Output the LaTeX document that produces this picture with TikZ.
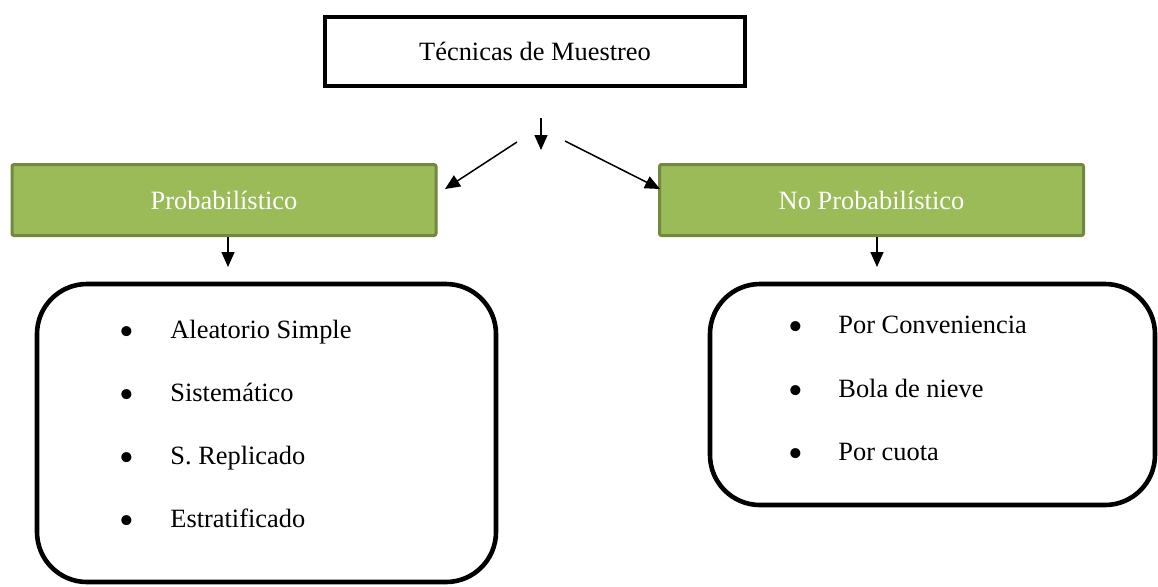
\documentclass[tikz,border=0pt]{standalone}
\usepackage{fontspec}
\setmainfont{Liberation Serif}
\usetikzlibrary{arrows.meta}
\definecolor{verde}{HTML}{9BBB59}
\definecolor{verdeborde}{HTML}{71893F}

\begin{document}
\begin{tikzpicture}[x=0.5pt, y=-0.5pt, every node/.style={font=\fontsize{13.2}{16}\selectfont},
    titulo/.style={draw, line width=2.2pt, minimum width=210pt, minimum height=34.5pt, inner sep=0pt},
    rama/.style={draw=verdeborde, fill=verde, line width=1.5pt, rounded corners=1pt, text=white, minimum width=212pt, minimum height=35.5pt, inner sep=0pt},
    lista/.style={draw, line width=2.3pt, rounded corners=25pt, inner sep=0pt},
    flecha/.style={line width=0.75pt, -{Triangle[length=7.5pt, width=6.5pt]}},
    punto/.style={inner sep=0pt, font=\fontsize{21}{21}\selectfont},
    item/.style={anchor=base west, inner sep=0pt}]
    \useasboundingbox (0, 0) rectangle (1158, 586);

    % cajas
    \node[titulo] (tecnicas) at (535, 51.5) {Técnicas de Muestreo};
    \node[rama] (prob) at (224, 200) {Probabilístico};
    \node[rama] (noprob) at (871.5, 200) {No Probabilístico};
    \node[lista, minimum width=229.5pt, minimum height=149pt] (listaprob) at (266.5, 433) {};
    \node[lista, minimum width=222.5pt, minimum height=110.5pt] (listanoprob) at (932.5, 394.5) {};

    % flechas
    \coordinate (bajada) at (541, 118);
    \coordinate (cruce) at (541, 150);
    \coordinate (izqini) at (517, 142);
    \coordinate (izqfin) at (445, 189);
    \coordinate (derini) at (565, 141);
    \coordinate (derfin) at (660, 189);
    \coordinate (probfin) at (228, 267);
    \coordinate (noprobfin) at (877, 267);
    \draw[flecha] (bajada) -- (cruce);
    \draw[flecha] (izqini) -- (izqfin);
    \draw[flecha] (derini) -- (derfin);
    \draw[flecha] (prob.south -| probfin) -- (probfin);
    \draw[flecha] (noprob.south -| noprobfin) -- (noprobfin);

    % probabilistico
    \node[punto] (p1) at (127, 336) {\textbullet};
    \node[punto] (p2) at (127, 399) {\textbullet};
    \node[punto] (p3) at (127, 462) {\textbullet};
    \node[punto] (p4) at (127, 525) {\textbullet};
    \node[item] (aleatorio) at (170, 338) {Aleatorio Simple};
    \node[item] (sistematico) at (170, 401) {Sistemático};
    \node[item] (replicado) at (170, 464) {S. Replicado};
    \node[item] (estratificado) at (170, 527) {Estratificado};

    % no probabilistico
    \node[punto] (n1) at (796, 331) {\textbullet};
    \node[punto] (n2) at (796, 395) {\textbullet};
    \node[punto] (n3) at (796, 458) {\textbullet};
    \node[item] (conveniencia) at (838, 333) {Por Conveniencia};
    \node[item] (bola) at (838, 397) {Bola de nieve};
    \node[item] (cuota) at (838, 460) {Por cuota};
\end{tikzpicture}
\end{document}
